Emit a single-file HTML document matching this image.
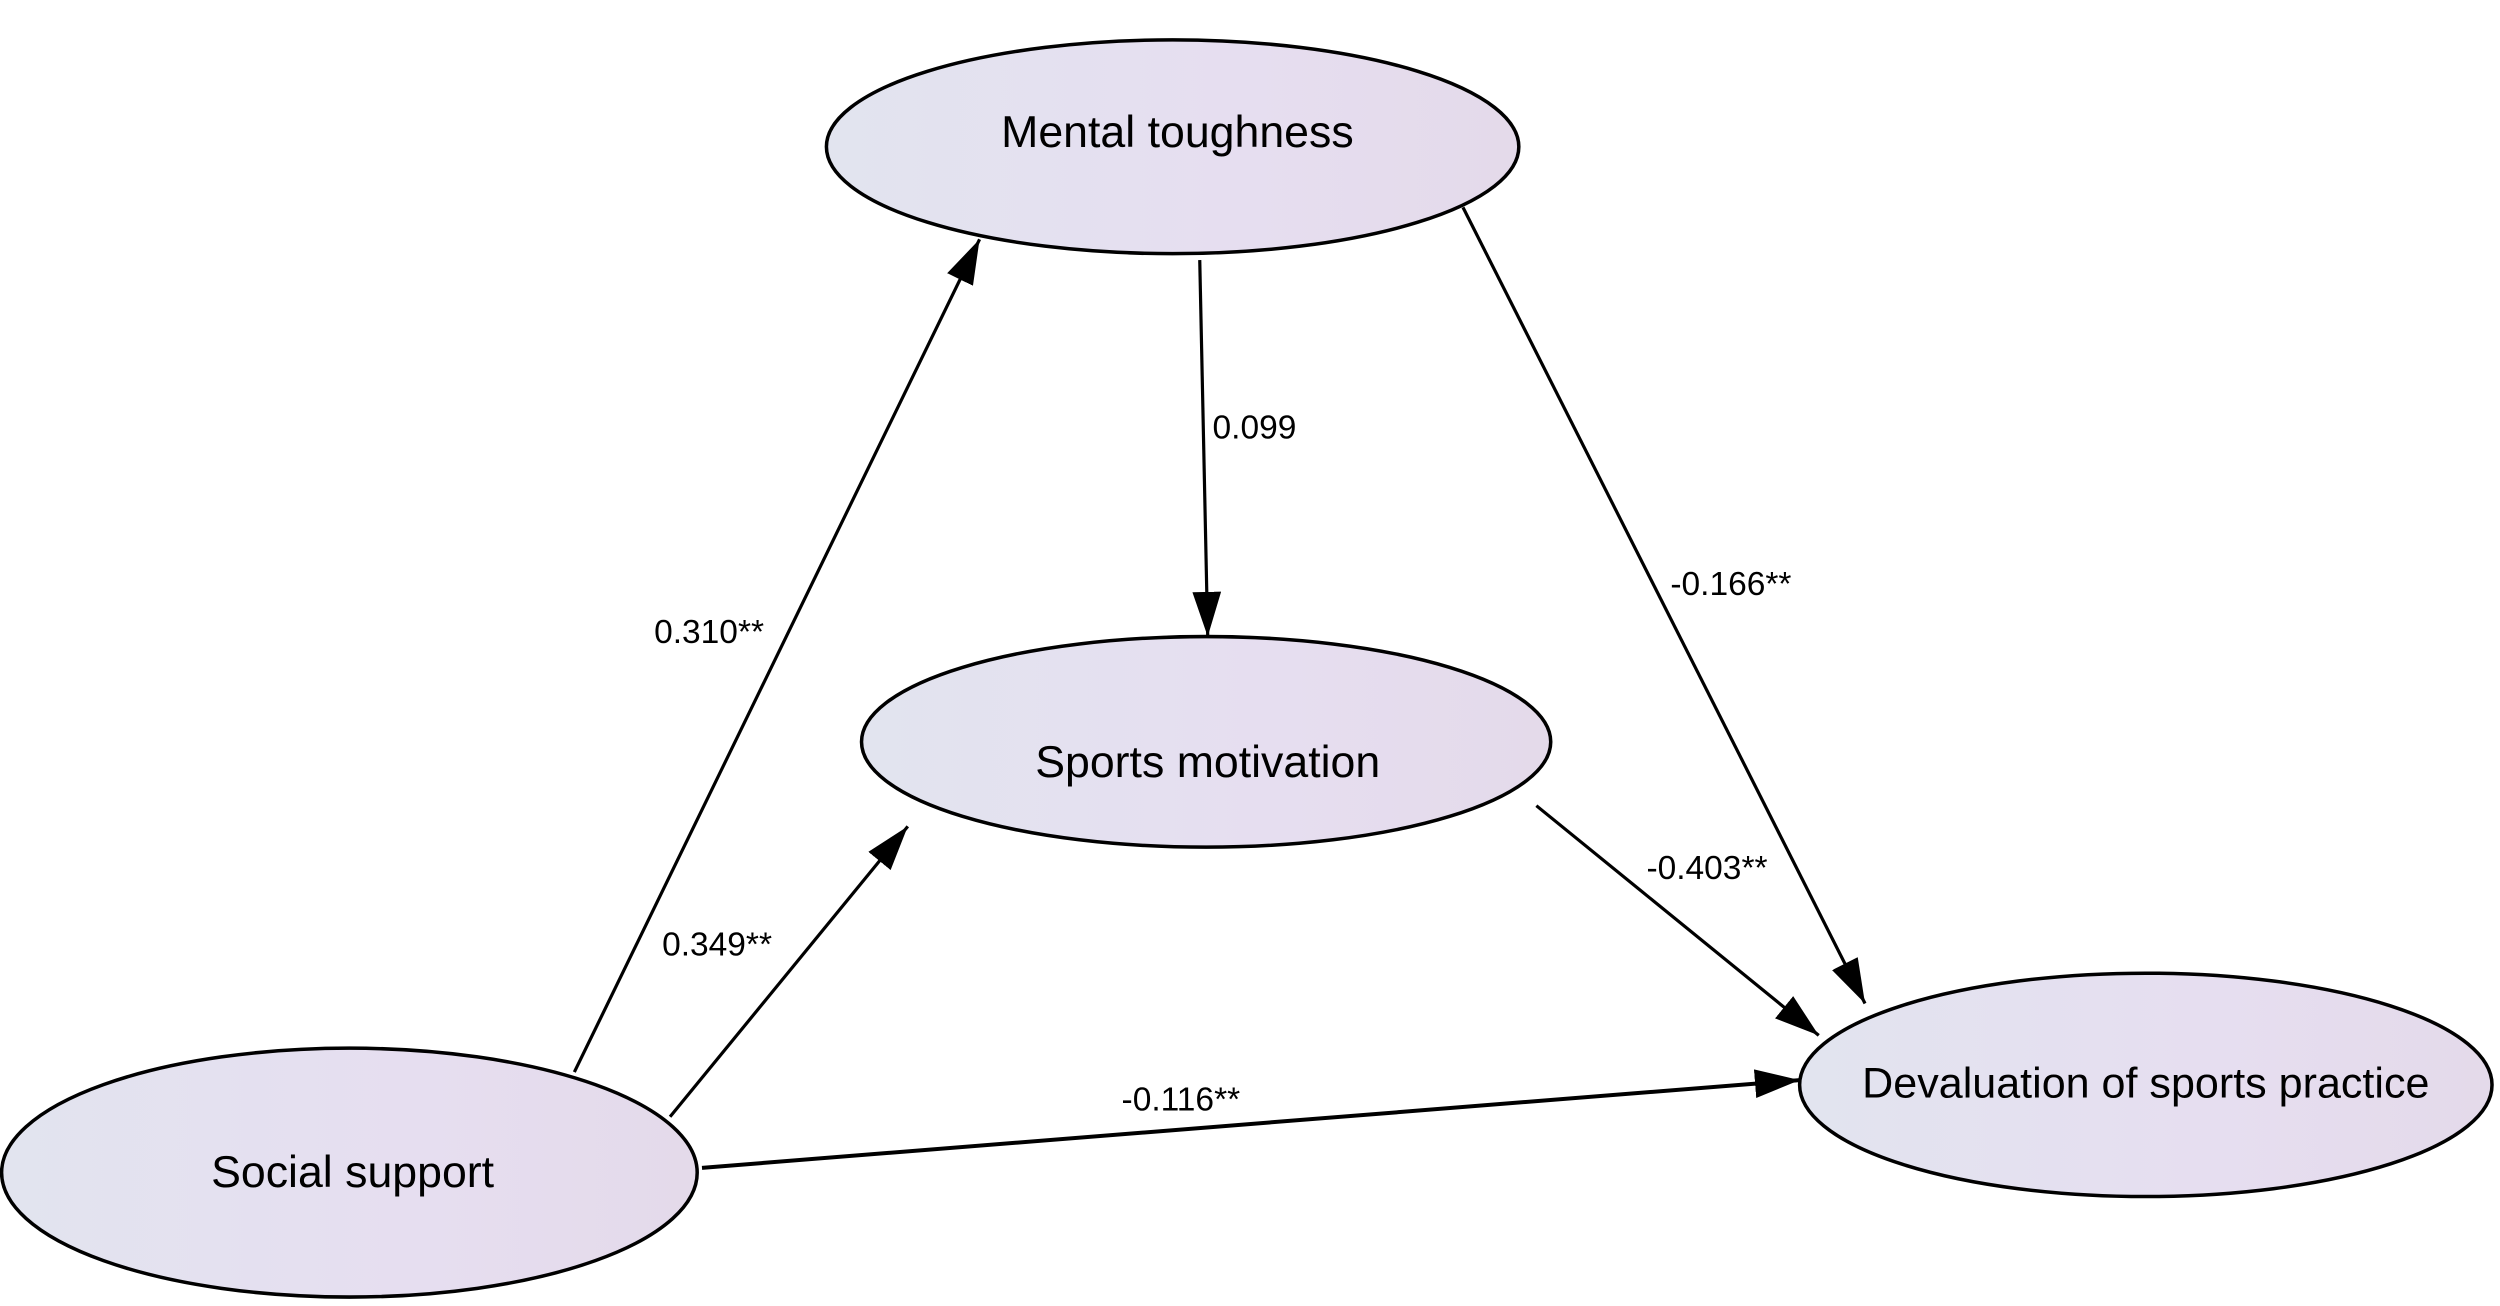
<!DOCTYPE html>
<html><head><meta charset="utf-8"><style>html,body{margin:0;padding:0;background:#fff}svg{display:block}</style></head>
<body>
<svg width="2500" height="1306" viewBox="0 0 1567 818.6" preserveAspectRatio="none" xmlns="http://www.w3.org/2000/svg">
<defs>
<linearGradient id="g" x1="0" y1="0" x2="1" y2="0">
<stop offset="0" stop-color="#e2e4ef"/><stop offset="0.6" stop-color="#e6def0"/><stop offset="1" stop-color="#e4daea"/>
</linearGradient>
<marker id="a" markerWidth="30" markerHeight="18" refX="28" refY="9" orient="auto" markerUnits="userSpaceOnUse">
<path d="M0,0 L28,9 L0,18 Z" fill="#000"/>
</marker>
</defs>
<g fill="url(#g)" stroke="#000" stroke-width="2.2">
<ellipse cx="735" cy="92" rx="217" ry="67"/>
<ellipse cx="756" cy="465" rx="216" ry="66"/>
<ellipse cx="219" cy="735" rx="218" ry="78"/>
<ellipse cx="1345" cy="680" rx="217" ry="70"/>
</g>
<g stroke="#000" stroke-width="2" fill="none" marker-end="url(#a)">
<line x1="360" y1="672" x2="614" y2="150"/>
<line x1="420" y1="700" x2="569" y2="518"/>
<line x1="752" y1="163" x2="757" y2="399"/>
<line x1="917" y1="130" x2="1169" y2="629"/>
<line x1="963" y1="505" x2="1140" y2="649"/>
<line x1="440" y1="732" x2="1128" y2="677" stroke-width="2.5"/>
</g>
<g font-family="Liberation Sans, Arial, sans-serif" fill="#000">
<g font-size="28" text-anchor="middle">
<text x="738" y="92">Mental toughness</text>
<text x="757" y="487">Sports motivation</text>
<text x="221" y="744">Social support</text>
<text x="1345" y="688" font-size="27">Devaluation of sports practice</text>
</g>
<g font-size="21">
<text x="760" y="275">0.099</text>
<text x="410" y="403">0.310**</text>
<text x="415" y="599">0.349**</text>
<text x="1047" y="373">-0.166**</text>
<text x="1032" y="551">-0.403**</text>
<text x="703" y="696">-0.116**</text>
</g>
</g>
</svg>
</body></html>
